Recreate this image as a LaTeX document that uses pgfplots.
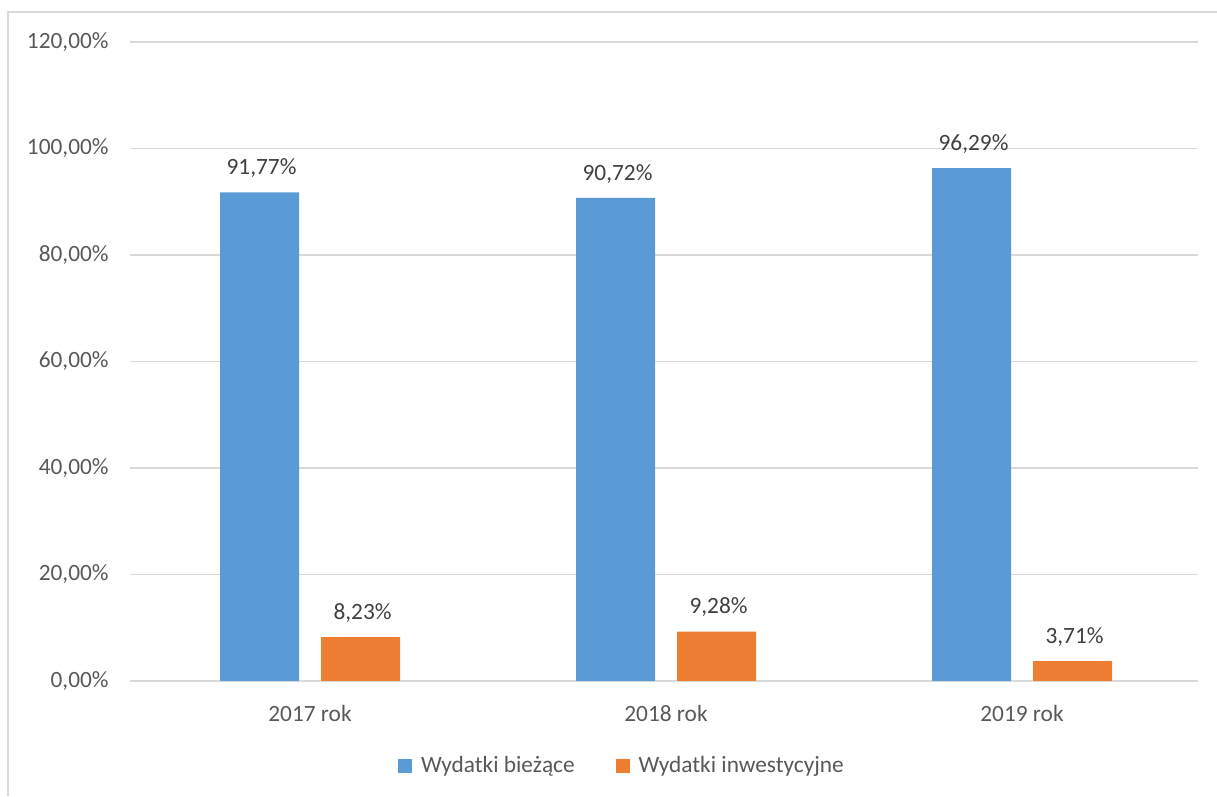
\documentclass[border=0pt]{standalone}
\usepackage{fontspec}
\setmainfont{Carlito}
\usepackage{pgfplots}
\pgfplotsset{compat=1.18}
\definecolor{barblue}{HTML}{5B9BD5}
\definecolor{barorange}{HTML}{ED7D31}
\definecolor{txtgray}{HTML}{595959}
\definecolor{lblgray}{HTML}{404040}
\definecolor{gridgray}{HTML}{D9D9D9}
\newcommand{\chartfont}{\fontsize{17.5pt}{21pt}\selectfont}
\pgfplotsset{
  sqlegend/.style={legend image code/.code={\fill[##1] (0pt,-5.25pt) rectangle (10.5pt,5.25pt);}},
}
\begin{document}
\chartfont
\begin{tikzpicture}
\useasboundingbox (0,0) rectangle (912.75pt,597pt);
\draw[gridgray, line width=1.2pt] (6pt,0) -- (6pt,588pt) -- (912.75pt,588pt);
\begin{axis}[
  at={(97.5pt,86.25pt)}, anchor=south west,
  scale only axis, width=801pt, height=479.25pt,
  ybar=16.5pt, bar width=59.25pt,
  xmin=-0.5, xmax=2.5, ymin=0, ymax=120,
  xtick=data, xticklabels={2017 rok,2018 rok,2019 rok},
  ytick={0,20,...,120},
  yticklabel={\pgfmathprintnumber[fixed,fixed zerofill,precision=2,use comma]{\tick}\%},
  /pgf/number format/assume math mode=true,
  axis x line*=bottom, axis y line*=left,
  x axis line style={gridgray, line width=1pt},
  y axis line style={draw=none},
  major tick length=0pt,
  ymajorgrids, grid style={gridgray, line width=1pt},
  tick label style={font=\chartfont, text=txtgray},
  xticklabel style={yshift=-12pt, xshift=1.5pt},
  yticklabel style={xshift=-10pt},
  nodes near coords={\pgfmathprintnumber[fixed,fixed zerofill,precision=2,use comma,assume math mode=true]{\pgfplotspointmeta}\%},
  every node near coord/.append style={font=\chartfont, text=lblgray, yshift=5pt, xshift=1.5pt},
  legend style={draw=none, at={(0.4611,-0.133)}, anchor=center, legend columns=2,
    font=\chartfont, text=txtgray,
    /tikz/every odd column/.append style={column sep=4.5pt},
    /tikz/every even column/.append style={column sep=29pt}},
]
\addplot[fill=barblue, draw=none, sqlegend, xshift=1.5pt] coordinates {(0,91.77) (1,90.72) (2,96.29)};
\addplot[fill=barorange, draw=none, sqlegend, xshift=1.5pt] coordinates {(0,8.23) (1,9.28) (2,3.71)};
\legend{Wydatki bieżące, Wydatki inwestycyjne}
\end{axis}
\end{tikzpicture}
\end{document}
